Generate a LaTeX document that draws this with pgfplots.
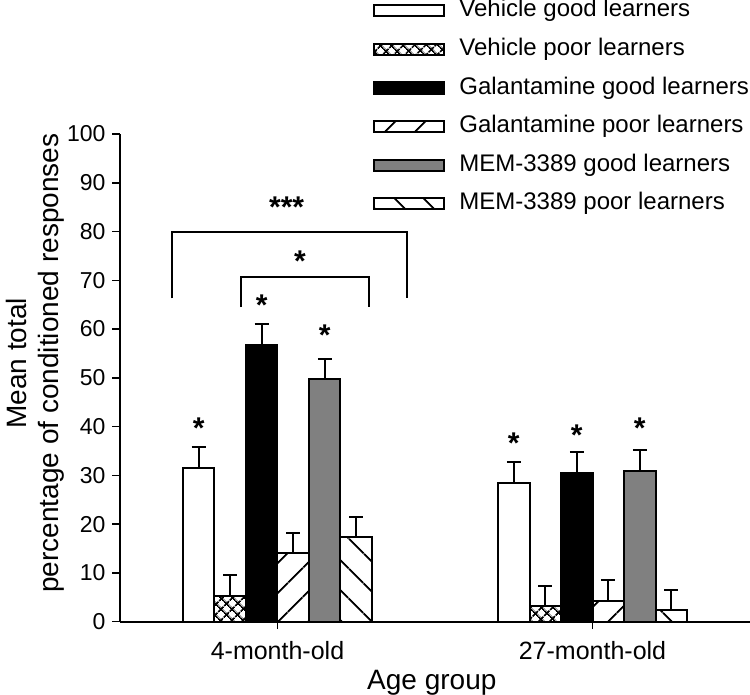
\documentclass[border=0pt]{standalone}
\usepackage{fontspec}
\setmainfont{Liberation Sans}
\usepackage{pgfplots}
\pgfplotsset{compat=1.18}
\usetikzlibrary{patterns.meta}
\pgfplotsset{
  mylegend/.style={legend image code/.code={\draw[##1, line width=1pt] (0pt,-2.8pt) rectangle (35pt,2.8pt);}},
}
\tikzset{sig/.style={font=\fontsize{15}{15}\selectfont\bfseries, anchor=base, yshift=-8.5pt}}
\begin{document}
\begin{tikzpicture}
\begin{axis}[
  scale only axis, width=315pt, height=243.85pt,
  xmin=-0.5, xmax=1.5, ymin=0, ymax=100,
  axis lines*=left,
  ybar, bar width=0.1, bar shift=0pt,
  xtick={0,1}, xticklabels={4-month-old,27-month-old},
  ytick={0,10,...,100},
  tick align=outside, major tick length=3.75pt,
  tick style={line width=0.8pt, black},
  axis line style={line width=1pt},
  xticklabel style={font=\fontsize{12.5}{14}\selectfont, yshift=-2.5pt},
  yticklabel style={font=\fontsize{11.5}{14}\selectfont},
  /pgf/number format/assume math mode=true,
  xlabel={Age group},
  ylabel={Mean total\\percentage of conditioned responses},
  ylabel style={align=center, font=\fontsize{14}{16}\selectfont, at={(axis description cs:-0.1345,0.530)}, anchor=center},
  xlabel style={font=\fontsize{14}{17}\selectfont, at={(axis description cs:0.495,-0.1245)}, anchor=center},
  clip=false,
  legend style={at={(0.4016,1.278)}, anchor=north west, draw=none, fill=none,
    font=\fontsize{12}{14}\selectfont, inner sep=0pt, row sep=7.3pt, column sep=7pt,
    nodes={inner xsep=0pt, inner ysep=0pt, text height=9pt, text depth=3pt}},
  legend cell align=left,
  every axis plot/.append style={draw=black, line width=1pt,
    error bars/y dir=plus, error bars/y explicit,
    error bars/error mark=|,
    error bars/error mark options={line width=1pt, mark size=3.5pt, black},
    error bars/error bar style={line width=1pt, black}},
]
% Vehicle good learners
\addplot[mylegend, fill=white] coordinates {(-0.25,31.6) +- (0,4.3) (0.75,28.4) +- (0,4.3)};
% Vehicle poor learners
\addplot[mylegend, fill=white, pattern={Hatch[angle=45,distance=4pt,line width=1pt]}] coordinates {(-0.15,5.3) +- (0,4.3) (0.85,3.2) +- (0,4.2)};
% Galantamine good learners
\addplot[mylegend, fill=black] coordinates {(-0.05,56.8) +- (0,4.3) (0.95,30.4) +- (0,4.3)};
% Galantamine poor learners
\addplot[mylegend, fill=white, pattern={Lines[angle=45,distance=10.5pt,line width=1pt]}] coordinates {(0.05,14.0) +- (0,4.2) (1.05,4.2) +- (0,4.3)};
% MEM-3389 good learners
\addplot[mylegend, fill=gray] coordinates {(0.15,49.7) +- (0,4.1) (1.15,31.0) +- (0,4.3)};
% MEM-3389 poor learners
\addplot[mylegend, fill=white, pattern={Lines[angle=-45,distance=10.5pt,line width=1pt]}] coordinates {(0.25,17.4) +- (0,4.1) (1.25,2.3) +- (0,4.2)};
\legend{Vehicle good learners, Vehicle poor learners, Galantamine good learners, Galantamine poor learners, MEM-3389 good learners, MEM-3389 poor learners}

% brackets
\draw[line width=1pt] (axis cs:-0.334,66.3) |- (axis cs:0.41,80) -- (axis cs:0.41,66.3);
\draw[line width=1pt] (axis cs:-0.117,64.5) |- (axis cs:0.29,70.7) -- (axis cs:0.29,64.5);
% significance stars
\node[sig] at (axis cs:0.029,86.3) {***};
\node[sig] at (axis cs:0.071,75.3) {*};
\node[sig] at (axis cs:-0.25,41) {*};
\node[sig] at (axis cs:-0.05,66.3) {*};
\node[sig] at (axis cs:0.15,60.1) {*};
\node[sig] at (axis cs:0.75,37.9) {*};
\node[sig] at (axis cs:0.95,39.6) {*};
\node[sig] at (axis cs:1.15,41) {*};
\end{axis}
\pgfresetboundingbox
\path (-60pt,-36.65pt) rectangle (315pt,310.85pt);
\end{tikzpicture}
\end{document}
